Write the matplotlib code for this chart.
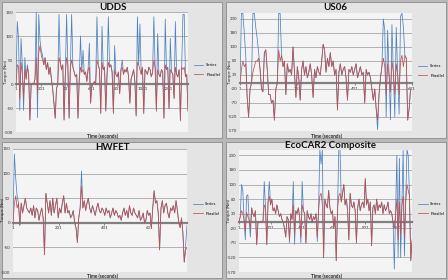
import matplotlib
matplotlib.use("Agg")
import matplotlib.pyplot as plt
from matplotlib.patches import Rectangle

plt.rcParams['font.family'] = ['Lato', 'DejaVu Sans']

W, H = 448, 280
SERIES_COLOR = '#4f81bd'
PARALLEL_COLOR = '#c0504d'

# --- data (torque in Nm, sampled every `step` seconds) ---
udds_step = 10
udds_parallel = [
    0, 40, 35, -30, 45, 20, -30, 30, 10, 35,
    20, -75, 0, 0, 0, 10, 55, -20, 65, 80,
    60, 50, 40, 55, 30, 45, 20, 35, 10, -10,
    -40, -70, -10, 0, 55, 45, 30, 40, -75, 20,
    55, 40, -70, 35, 50, 35, 25, 15, 20, -70,
    10, 35, 25, 30, 20, 25, 5, 30, 35, -40,
    0, 0, 5, 0, 50, 40, 30, -60, 45, 30,
    35, -55, 20, 45, 35, 40, 25, -60, 30, 20,
    15, 25, -20, 30, 35, 20, 30, 25, 35, 15,
    -40, 10, 20, 30, 5, -65, 45, 40, 30, 20,
    35, -60, 30, 25, 20, 35, 30, 15, 25, 50,
    35, -55, 30, 20, 15, 30, 25, -70, 40, 30,
    35, -50, 30, 25, 20, -30, 35, 20, 15, 30,
    -75, 35, 30, 35, 15, 20, -55,
]
udds_series_diff = {
    1: 130, 2: 95, 3: -55, 4: 95, 5: 40, 6: -55, 7: 55, 9: 40,
    16: 150, 17: -70, 18: 145, 19: 90, 20: 70, 21: 60,
    31: -72, 34: 145, 38: -75, 40: 145, 42: -72, 44: 145, 49: -72,
    51: 100, 53: 70, 58: 85, 64: 140, 67: -62, 68: 120,
    71: -57, 73: 140, 77: -62, 78: 80, 84: 50,
    95: -67, 96: 140, 98: 125, 101: -62, 109: 140, 111: -57, 112: 105,
    117: -72, 118: 135, 121: -52, 122: 95, 126: 130,
    130: -77, 132: 145, 133: 145, 136: -57,
}

us06_step = 5
us06_parallel = [
    0, 50, 80, 60, 70, -50, -120, -20, 0, 40,
    60, 80, 80, 90, 50, -20, -30, 110, 120, 50,
    -40, -40, -70, -60, -130, -20, 0, 120, 80, 100,
    60, 80, -40, 70, 40, 50, 30, 130, 40, -50,
    60, 20, -60, 50, 80, 30, 60, 20, 40, 70,
    30, -50, 50, 20, 60, 40, 30, 80, 140, 120,
    40, 90, 60, 110, 60, 80, 30, 50, -95, 40,
    70, 30, 50, 60, 20, -60, 50, 40, 60, 30,
    50, 70, 20, 40, 60, 30, 40, -70, 50, 30,
    40, 20, -20, -60, -20, -90, -130, -40, 20, 60,
    90, 60, -40, 70, 30, -30, 80, 40, -40, 70,
    30, -40, 80, 100, 60, 100, 90, -130, -90, -20,
]
us06_series_diff = {
    1: 250, 2: 250, 3: 180, 4: 100, 6: -122, 9: 250, 10: 250, 11: 200,
    12: 160, 13: 110, 24: -132, 27: 250, 28: 250,
    96: -165, 100: 230, 101: 190, 102: -120, 103: 190, 105: -130,
    106: 210, 108: -120, 109: 200, 111: -110, 112: 240, 113: 250,
    114: 200, 117: -132,
}

hwfet_step = 6
hwfet_parallel = [
    0, 40, 55, 30, 40, -5, 40, 20, 35, 50,
    30, 25, 20, 30, 15, 35, 10, 30, 25, 5,
    20, 30, 10, -65, 60, 40, 20, 45, 15, 50,
    20, 35, 50, 10, 30, 20, 40, 55, 20, 40,
    20, 25, 10, 15, 25, 0, -10, -40, 10, 30,
    75, 30, 45, 25, 40, 50, 30, 20, 35, 25,
    15, 30, 40, 25, 20, 30, 25, 15, 30, 20,
    25, 10, 20, 30, 15, 25, 20, 10, 15, 5,
    20, 30, 15, 25, 10, 35, 20, 15, 30, 20,
    15, 10, 25, 5, 10, 20, 0, 5, 25, 15,
    20, -10, 30, 65, 40, 45, 20, -55, 30, 45,
    20, 35, 40, 20, 10, 30, 25, 35, 20, 45,
    25, 0, -10, 10, -20, -80, -55, -50,
]
hwfet_series_diff = {1: 140, 2: 90, 3: 55, 50: 105, 126: -45, 127: -5}

eco_step = 8
eco_parallel = [
    0, 20, 40, 30, 10, -30, 35, 20, 10, -20,
    50, 30, 20, 40, -75, 0, 0, 0, 0, 5,
    60, 50, -75, 70, 90, 60, 80, 40, 50, 30,
    60, 40, 20, 30, 10, 0, -20, -50, 20, 10,
    -60, 30, 10, 60, -40, 40, 30, 50, 20, -50,
    60, 40, 30, -70, 40, 20, 10, 30, 0, 20,
    10, 30, -50, 40, 90, 100, 60, -120, 80, 60,
    50, 110, 50, 30, 40, -20, 20, -130, 40, 90,
    100, 70, 100, 130, 60, 80, 40, -60, 100, 60,
    50, 70, 40, -70, 50, 80, 40, 60, 70, 50,
    150, 60, 80, 40, 70, -80, 50, 60, 30, 80,
    40, 60, 50, 70, 30, 60, 40, 50, 70, 30,
    40, 30, 0, -20, 30, 80, -60, 70, -40, 60,
    90, -50, 70, 130, 110, 90, -130, -60,
]
eco_series_diff = {
    2: 130, 3: 110, 5: -60, 6: 90, 7: 95, 9: -50, 14: -77,
    20: 140, 22: -77, 24: 140, 40: -70, 43: 140, 44: -75, 49: -70,
    50: 140, 53: -72, 62: -65, 64: 250, 65: 200, 66: 250, 67: -122,
    77: -132, 79: 250, 80: 250, 123: -160, 125: 230, 126: -120,
    127: 220, 128: -120, 130: 250, 131: -115, 133: 250, 134: 230,
    136: -132, 137: -70,
}

panels = [
    # title, step, parallel, series diff, y range, y ticks start, x ticks,
    # axes box (l, t, r, b px), panel box, title pos, xlabel pos, legend y
    ("UDDS", udds_step, udds_parallel, udds_series_diff, (-100, 150), -100,
     [1, 201, 401, 601, 801, 1001, 1201], (16, 12, 188, 132),
     (2, 2, 222, 138), (113, 7), (102, 136), 70),
    ("US06", us06_step, us06_parallel, us06_series_diff, (-170, 250), -170,
     [1, 201, 401, 601], (240, 13.4, 412, 131),
     (226, 2, 446, 138), (335, 7), (326, 136), 71),
    ("HWFET", hwfet_step, hwfet_parallel, hwfet_series_diff, (-100, 150), -100,
     [1, 201, 401, 601], (13, 149, 187, 272),
     (2, 142, 222, 278), (113, 147), (102, 276), 209),
    ("EcoCAR2 Composite", eco_step, eco_parallel, eco_series_diff, (-170, 250), -170,
     [1, 201, 401, 601, 801, 1001], (239, 149.5, 412, 272),
     (226, 142, 446, 278), (330, 145), (326, 276), 209),
]

fig = plt.figure(figsize=(W / 100, H / 100), dpi=100)
fig.patch.set_facecolor('#b9b9b9')

for (title, step, par, sdiff, ylim, ystart, xticks, box, pbox,
     tpos, xlpos, legy) in panels:
    # panel background
    px0, py0, px1, py1 = pbox
    fig.patches.append(Rectangle((px0 / W, 1 - py1 / H), (px1 - px0) / W,
                                 (py1 - py0) / H, transform=fig.transFigure,
                                 facecolor='#e4e4e4', edgecolor='#8c8c8c',
                                 linewidth=0.6, zorder=-10))
    l, t, r, b = box
    ax = fig.add_axes([l / W, 1 - b / H, (r - l) / W, (b - t) / H])
    ax.set_facecolor('#f4f4f4')
    for s in ('top', 'right', 'left'):
        ax.spines[s].set_visible(False)
    ax.spines['bottom'].set_position(('data', 0))
    ax.spines['bottom'].set_color('#808080')
    ax.spines['bottom'].set_linewidth(1.6)
    ax.spines['bottom'].set_zorder(2)

    time = [1 + step * i for i in range(len(par))]
    series = [sdiff.get(i, v) for i, v in enumerate(par)]

    ax.plot(time, series, color=SERIES_COLOR, lw=0.55, label='Series', zorder=3)
    ax.plot(time, par, color=PARALLEL_COLOR, lw=0.55, label='Parallel', zorder=4)

    ax.set_ylim(*ylim)
    ax.set_xlim(1, max(time[-1], xticks[-1]))
    yt = list(range(ystart, ylim[1] + 1, 50))
    ax.set_yticks(yt)
    ax.set_yticklabels([str(v) for v in yt])
    ax.set_xticks(xticks)
    ax.set_xticklabels([str(v) for v in xticks])
    ax.tick_params(axis='y', length=0, pad=2, labelsize=3.2,
                   labelcolor='#333333')
    ax.tick_params(axis='x', length=1.5, width=0.4, pad=1, labelsize=3.2,
                   colors='#333333')
    ax.grid(axis='y', color='#a6a6a6', lw=0.6, zorder=1)
    ax.set_axisbelow(True)

    ax.legend(loc='center left', bbox_to_anchor=(1.01, (b - legy) / (b - t)),
              frameon=False, fontsize=3.2, handlelength=2.2, labelspacing=1.2,
              handletextpad=0.6)

    fig.text(tpos[0] / W, 1 - tpos[1] / H, title, ha='center', va='center',
             fontsize=7, fontweight='bold', color='#111111')
    fig.text(xlpos[0] / W, 1 - xlpos[1] / H, 'Time (seconds)', ha='center',
             va='center', fontsize=3.4, fontweight='bold', color='#222222')
    fig.text((l - 10) / W, 1 - ((t + b) / 2) / H, 'Torque (Nm)', ha='center',
             va='center', rotation=90, fontsize=3.2, color='#222222')

fig.savefig('out.png', dpi=100, facecolor=fig.get_facecolor())
